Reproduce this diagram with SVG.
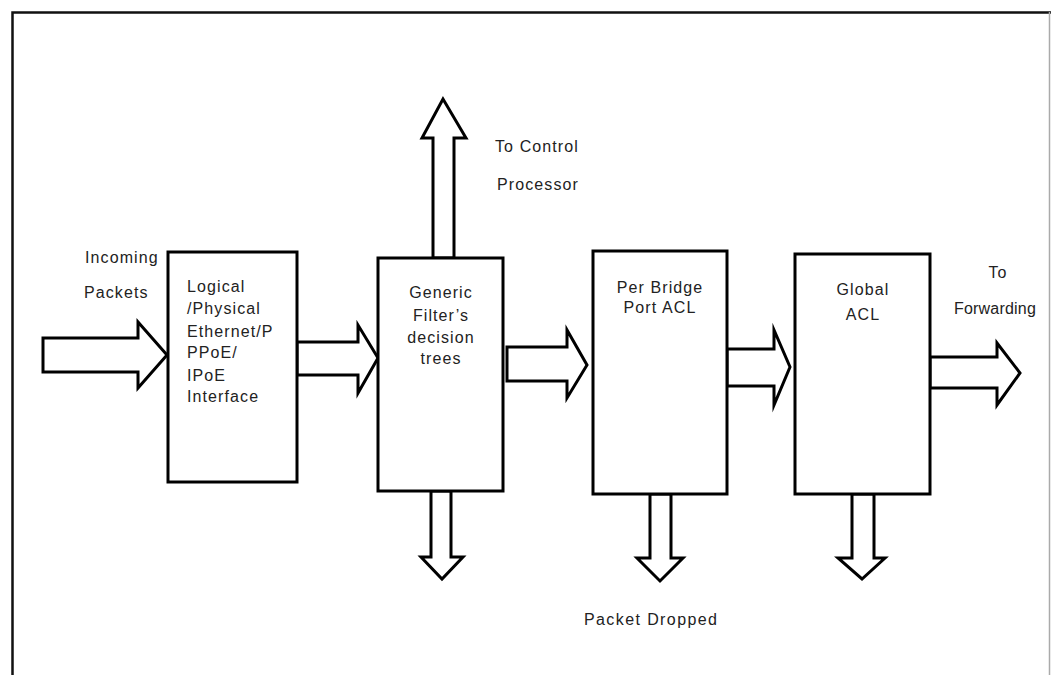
<svg xmlns="http://www.w3.org/2000/svg" width="1051" height="675" viewBox="0 0 1051 675">
<style>
.box{fill:#fff;stroke:#000;stroke-width:3}
.arr{fill:#fff;stroke:#000;stroke-width:3;stroke-linejoin:miter;stroke-miterlimit:10}
.t{font-family:"Liberation Sans",Arial,sans-serif;font-size:16px;fill:#222;letter-spacing:1.1px}
.c{text-anchor:middle}
.frame{fill:none;stroke:#111;stroke-width:2.5}
</style>
<rect x="0" y="0" width="1051" height="675" fill="#fff"/>
<g id="frame">
<path class="frame" d="M12.5,675 V12.5 H1051"/>
<line x1="1049.5" y1="12" x2="1049.5" y2="675" stroke="#aaa" stroke-width="1.5"/>
</g>
<g id="connectors">
<polygon class="arr" points="43,338 138,338 138,322 167,355 138,388 138,372 43,372"/>
<polygon class="arr" points="297,342 358,342 358,325 378,358 358,393 358,375 297,375"/>
<polygon class="arr" points="507,347 567,347 567,330 587,365 567,398 567,381 507,381"/>
<polygon class="arr" points="727,349 774,349 774,330 790,367 774,405 774,386 727,386"/>
<polygon class="arr" points="930,357 997,357 997,343 1020,373 997,405 997,388 930,388"/>
<polygon class="arr" points="433,258 433,138 422,138 443,99 466,138 454,138 454,258"/>
<polygon class="arr" points="431,491 451,491 451,557 463,557 442,579 421,557 431,557"/>
<polygon class="arr" points="650,494 671,494 671,558 683,558 660,581 637,558 650,558"/>
<polygon class="arr" points="852,494 874,494 874,558 885,558 862,579 838,558 852,558"/>
</g>
<g id="node-interface">
<rect class="box" x="168" y="252" width="129" height="230"/>
<text class="t" x="187" y="292">Logical</text>
<text class="t" x="187" y="314">/Physical</text>
<text class="t" x="187" y="337">Ethernet/P</text>
<text class="t" x="187" y="358">PPoE/</text>
<text class="t" x="187" y="381">IPoE</text>
<text class="t" x="187" y="402">Interface</text>
</g>
<g id="node-generic-filter">
<rect class="box" x="378" y="258" width="125" height="233"/>
<text class="t c" x="441" y="298">Generic</text>
<text class="t c" x="441" y="321">Filter’s</text>
<text class="t c" x="441" y="343">decision</text>
<text class="t c" x="441" y="364">trees</text>
</g>
<g id="node-per-bridge">
<rect class="box" x="593" y="251" width="134" height="243"/>
<text class="t c" x="660" y="293">Per Bridge</text>
<text class="t c" x="660" y="313">Port ACL</text>
</g>
<g id="node-global">
<rect class="box" x="795" y="254" width="135" height="240"/>
<text class="t c" x="863" y="295">Global</text>
<text class="t c" x="863" y="320">ACL</text>
</g>
<g id="labels">
<text class="t" x="85" y="263">Incoming</text>
<text class="t" x="84" y="298">Packets</text>
<text class="t" x="495" y="152">To Control</text>
<text class="t" x="497" y="190">Processor</text>
<text class="t c" x="998" y="278">To</text>
<text class="t c" x="995" y="314" style="letter-spacing:0.2px">Forwarding</text>
<text class="t" x="584" y="625" style="letter-spacing:1.4px">Packet Dropped</text>
</g>
</svg>
